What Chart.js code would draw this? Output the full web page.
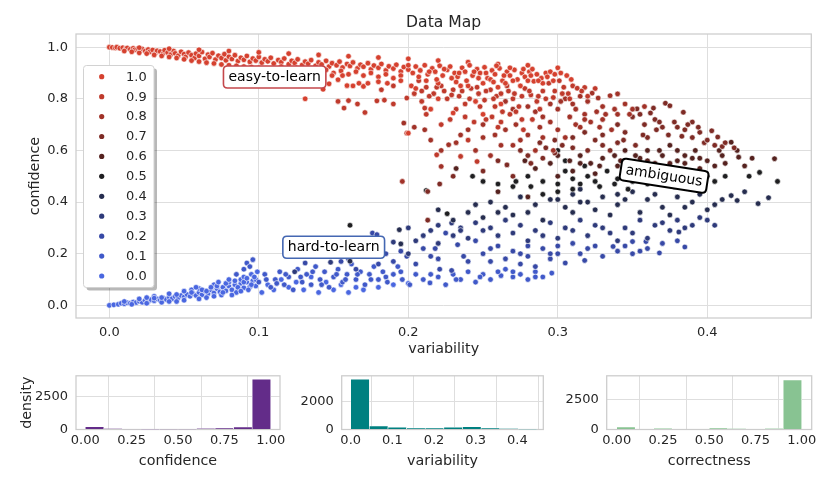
<!DOCTYPE html>
<html><head><meta charset="utf-8">
<script src="https://cdn.jsdelivr.net/npm/chart.js@4.4.0/dist/chart.umd.min.js"></script>
<style>
html,body{margin:0;padding:0;background:#fff;}
#wrap{position:relative;width:830px;height:485px;overflow:hidden;background:#fff;}
canvas{position:absolute;left:0;}
</style></head><body>
<div id="wrap">
<canvas id="main" width="830" height="360" style="top:0px"></canvas>
<canvas id="h1" width="830" height="125" style="top:360px"></canvas>
<canvas id="h2" width="830" height="125" style="top:360px"></canvas>
<canvas id="h3" width="830" height="125" style="top:360px"></canvas>
</div>
<script>
// ---------- DATA ----------
// correctness levels (legend) and their colours
const corrLabels = ['1.0','0.9','0.8','0.7','0.6','0.5','0.4','0.3','0.2','0.1','0.0'];
const corrColors = ['#d5412f','#bf3a2c','#a13228','#7e2b25','#55221f','#1f1f21','#262d4f','#2e3a7a','#3749a6','#4059c9','#4a67e0'];

// each point: [variability, confidence]
const corr10 = [[0,1],[.002,.999],[.004,.997],[.005,1],[.007,.996],[.009,.998],[.011,.994],[.012,.997],[.014,.992],[.016,.996],[.017,.99],[.019,.994],[.021,.988],[.022,.993],[.024,.985],[.026,.991],[.027,.982],[.029,.989],[.031,.978],[.032,.986],[.034,.983],[.036,.975],[.037,.988],[.039,.979],[.041,.971],[.043,.985],[.044,.976],[.046,.967],[.048,.982],[.05,.973],[.051,.962],[.053,.979],[.055,.969],[.057,.958],[.058,.975],[.06,.966],[.062,.981],[.064,.955],[.066,.971],[.067,.962],[.069,.977],[.071,.952],[.073,.967],[.075,.958],[.077,.973],[.078,.949],[.08,.963],[.082,.954],[.084,.969],[.086,.946],[.088,.959],[.09,.951],[.092,.966],[.094,.943],[.096,.956],[.098,.948],[.1,.962],[.102,.94],[.104,.953],[.106,.945],[.108,.959],[.11,.937],[.113,.95],[.115,.942],[.117,.956],[.12,.934],[.122,.947],[.124,.939],[.126,.953],[.129,.931],[.131,.944],[.133,.936],[.135,.95],[.138,.928],[.14,.941],[.142,.933],[.145,.947],[.147,.925],[.149,.938],[.152,.93],[.154,.944],[.156,.921],[.159,.935],[.161,.927],[.163,.941],[.166,.918],[.168,.932],[.17,.924],[.173,.938],[.175,.914],[.177,.929],[.18,.92],[.182,.935],[.185,.91],[.187,.926],[.19,.917],[.192,.932],[.195,.906],[.197,.923],[.2,.913],[.2,.93],
[.01,.985],[.015,.982],[.02,.978],[.025,.975],[.03,.97],[.035,.966],[.04,.962],[.045,.958],[.05,.953],[.055,.948],[.06,.944],[.065,.94],[.07,.937],[.075,.933],[.08,.93],[.085,.928],[.09,.925],[.095,.923],[.1,.92],[.105,.917],[.11,.914],[.115,.925],[.12,.912],[.125,.92],[.13,.91],[.135,.918],[.14,.905],[.145,.912],[.15,.9],[.155,.908],[.16,.895],[.165,.905],[.17,.89],[.175,.9],[.18,.885],[.185,.895],[.19,.88],[.195,.89],
[.02,.998],[.04,.994],[.06,.99],[.08,.985],[.1,.98],[.12,.975],[.14,.97],[.16,.965],[.18,.96],[.2,.955],[.22,.948],[.24,.942],[.26,.935],[.28,.93],[.3,.92],
[.131,.80],[.143,.837],[.147,.858],[.149,.89],[.153,.874],[.156,.89],[.159,.851],[.163,.85],[.167,.86],[.17,.848],[.173,.86],[.18,.866],[.186,.86],[.195,.87],[.202,.85],[.205,.84],
[.205,.925],[.208,.91],[.211,.93],[.213,.895],[.216,.918],[.218,.905],[.221,.928],[.223,.89],[.226,.912],[.228,.925],[.231,.9],[.233,.885],[.236,.92],[.238,.905],[.241,.93],[.243,.89],[.246,.915],[.248,.9],[.251,.922],[.253,.88],[.256,.91],[.258,.895],[.261,.918],[.263,.87],[.266,.905],[.268,.89],[.271,.912],[.273,.875],[.276,.9],[.278,.885],[.281,.905],[.284,.868],[.286,.895],[.289,.88],[.292,.9],[.295,.905],[.298,.895],[.212,.87],[.22,.86],[.232,.865],[.24,.85],[.25,.86],[.26,.845],[.275,.85],[.215,.76],[.22,.8],[.23,.745],[.245,.79],[.25,.74],[.262,.78],[.2,.667],[.235,.85],[.255,.875],[.265,.86],[.28,.87],[.29,.86],[.268,.92],[.283,.915],[.259,.928],[.244,.905],
[.203,.9],[.207,.885],[.214,.905],[.219,.875],[.224,.915],[.229,.88],[.234,.9],[.239,.87],[.247,.88],[.252,.9],[.257,.865],[.264,.89],[.27,.87],[.277,.915],[.282,.89],[.287,.87],[.293,.885],[.297,.87],[.302,.9],[.306,.89],[.309,.875]];
const corr09 = [[.153,.79],[.157,.764],[.16,.793],[.166,.78],[.171,.747],[.179,.792],[.184,.795],[.19,.78],[.182,.835],[.19,.85],[.199,.803],[.209,.79],[.211,.764],[.199,.667],[.219,.583],[.235,.577],[.246,.557],
[.207,.87],[.212,.845],[.217,.82],[.222,.85],[.226,.8],[.23,.835],[.234,.81],[.238,.78],[.242,.84],[.247,.82],[.251,.795],[.255,.835],[.259,.81],[.263,.75],[.267,.83],[.27,.8],[.274,.77],[.278,.84],[.282,.815],[.286,.79],[.29,.83],[.294,.86],[.297,.805],[.301,.87],[.304,.845],[.307,.82],[.31,.85],[.313,.841],[.318,.844],[.228,.72],[.244,.71],[.256,.73],[.268,.74],[.283,.72],[.24,.64],[.26,.69],[.277,.68],
[.204,.82],[.209,.83],[.214,.81],[.219,.845],[.224,.83],[.229,.815],[.236,.83],[.241,.8],[.246,.845],[.252,.83],[.257,.8],[.262,.82],[.266,.85],[.271,.82],[.276,.81],[.281,.83],[.287,.81],[.292,.8],[.298,.83],[.303,.82],[.308,.8],[.316,.83],[.32,.81],[.325,.84],[.232,.76],[.248,.77],[.258,.77],[.272,.75],[.288,.76],[.212,.74],[.222,.7],[.238,.73],[.252,.72],[.262,.71],[.276,.72]];
const corr08 = [[.197,.706],[.204,.69],[.196,.48],[.222,.538],[.227,.622],
[.265,.79],[.27,.76],[.28,.77],[.285,.75],[.29,.73],[.295,.78],[.3,.76],[.305,.8],[.31,.78],[.315,.81],[.32,.79],[.323,.822],[.327,.803],[.33,.77],[.335,.812],[.34,.819],[.345,.78],[.25,.7],[.258,.66],[.265,.68],[.272,.7],[.28,.66],[.288,.69],[.295,.71],[.3,.68],[.308,.73],[.312,.7],[.318,.74],[.322,.71],[.33,.72],[.336,.68],[.245,.6],[.27,.62],[.285,.6],[.255,.58],[.211,.68],[.215,.64],[.235,.66],[.302,.79],[.312,.76],[.326,.75],[.338,.76],[.348,.74],
[.25,.65],[.262,.62],[.275,.64],[.29,.65],[.297,.6],[.305,.65],[.315,.69],[.328,.69],[.34,.74],[.35,.76],[.358,.77],[.332,.74],[.318,.72],[.222,.6],[.232,.63],[.24,.68]];
const corr07 = [[.213,.441],[.266,.544],[.213,.33],
[.353,.761],[.364,.764],[.372,.783],[.375,.773],[.384,.748],[.35,.73],[.358,.7],[.365,.72],[.37,.69],[.378,.71],[.385,.68],[.34,.7],[.345,.67],[.33,.66],[.325,.64],[.318,.67],[.31,.65],[.303,.62],[.298,.64],[.292,.61],[.288,.63],[.28,.58],[.275,.6],[.39,.65],[.395,.67],[.403,.676],[.407,.652],[.41,.615],[.398,.63],[.36,.65],[.352,.62],[.34,.63],[.32,.6],[.26,.56],[.25,.52],[.27,.5],[.23,.5],[.221,.47],[.355,.74],[.362,.745],[.368,.71],[.38,.69],[.39,.71],[.383,.655],[.405,.62],
[.33,.62],[.344,.64],[.357,.66],[.366,.68],[.374,.66],[.387,.7],[.394,.69],[.4,.64],[.412,.63],[.418,.61],[.335,.6],[.31,.61],[.298,.59],[.282,.55],[.29,.57]];
const corr06 = [[.445,.568],[.421,.574],[.416,.632],[.38,.6],[.375,.62],[.37,.58],[.385,.58],[.392,.6],[.36,.6],[.355,.57],[.345,.6],[.338,.58],[.33,.57],[.322,.55],[.315,.58],[.308,.56],[.3,.58],[.295,.55],[.285,.53],[.278,.56],[.3,.5],[.31,.52],[.325,.51],[.35,.53],[.365,.55],[.4,.56],[.405,.54],[.412,.55],[.395,.53],[.232,.53],[.26,.44],[.28,.42],[.39,.57],[.375,.55],[.36,.56],[.41,.58],[.42,.6],
[.315,.55],[.328,.54],[.342,.56],[.352,.58],[.368,.6],[.38,.56],[.395,.57],[.408,.6],[.43,.57],[.425,.54],[.34,.54],[.37,.53],[.385,.55]];
const corr05 = [[.447,.48],[.435,.515],[.428,.5],[.161,.31],[.226,.355],[.212,.445],
[.3,.6],[.305,.56],[.31,.49],[.315,.47],[.32,.5],[.328,.46],[.333,.52],[.34,.49],[.347,.45],[.355,.5],[.36,.47],[.37,.5],[.378,.46],[.388,.52],[.395,.48],[.4,.5],[.29,.48],[.28,.5],[.27,.46],[.26,.47],[.29,.43],[.3,.44],[.243,.5],[.25,.48],
[.305,.52],[.318,.54],[.325,.48],[.338,.47],[.35,.48],[.365,.52],[.373,.48],[.383,.49],[.393,.46],[.405,.48],[.412,.5],[.3,.47],[.31,.45],[.282,.46],[.272,.48]];
const corr04 = [[.441,.417],[.434,.394],[.42,.406],[.416,.425],[.245,.39],[.194,.293],[.195,.238],[.161,.171],
[.3,.41],[.31,.43],[.32,.4],[.33,.42],[.34,.39],[.35,.44],[.36,.41],[.37,.38],[.38,.42],[.39,.4],[.4,.37],[.405,.39],[.395,.43],[.285,.39],[.275,.42],[.265,.38],[.255,.4],[.24,.36],[.23,.33],[.22,.37],[.25,.34],[.27,.35],[.29,.33],[.31,.36],[.335,.35],[.355,.36],[.375,.35],
[.305,.38],[.315,.4],[.325,.37],[.345,.41],[.365,.43],[.385,.38],[.41,.41],[.425,.44],[.28,.36],[.26,.36],[.295,.41],[.315,.45],[.34,.43]];
const corr03 = [[.124,.13],[.148,.167],[.19,.245],[.229,.319],[.235,.3],
[.2,.3],[.21,.27],[.22,.31],[.235,.29],[.245,.32],[.255,.3],[.265,.33],[.275,.31],[.285,.29],[.295,.32],[.305,.3],[.315,.33],[.325,.31],[.335,.28],[.345,.3],[.355,.33],[.365,.31],[.375,.29],[.381,.284],[.36,.26],[.34,.25],[.32,.27],[.3,.26],[.28,.25],[.26,.27],[.24,.26],[.22,.24],[.38,.33],[.39,.31],[.395,.34],[.2,.2],[.18,.22],
[.25,.29],[.27,.28],[.29,.27],[.31,.29],[.33,.3],[.35,.28],[.37,.32],[.385,.3],[.4,.33],[.405,.31],[.23,.27],[.215,.29],[.205,.25]];
const corr02 = [[.176,.28],[.179,.274],[.131,.164],[.19,.17],[.199,.19],[.21,.22],[.218,.22],[.225,.28],[.233,.235],[.237,.19],[.221,.14],[.229,.135],
[.337,.228],[.35,.247],[.359,.247],[.368,.203],[.385,.226],[.305,.164],[.318,.174],
[.25,.2],[.26,.23],[.27,.21],[.28,.19],[.29,.22],[.3,.2],[.31,.24],[.32,.22],[.33,.19],[.34,.21],[.35,.2],[.36,.22],[.245,.25],[.255,.17],[.265,.18],[.275,.16],[.285,.15],[.295,.18],[.15,.2],[.16,.18],[.17,.21],[.18,.16],[.14,.19],[.165,.14],[.185,.2],[.205,.16],[.215,.19],[.24,.17],
[.255,.22],[.275,.2],[.295,.2],[.315,.2],[.325,.23],[.345,.23],[.355,.21],[.37,.24],[.38,.25],[.28,.23],[.3,.23],[.22,.18],[.195,.21],[.175,.19],[.155,.17]];
const corr01 = [[.201,.08],[.2145,.087],[.262,.115],[.27,.11],[.296,.125],
[.092,.164],[.096,.177],[.1,.09],[.104,.12],[.108,.07],[.111,.1],[.114,.13],[.117,.08],[.12,.11],[.123,.06],[.126,.14],[.129,.09],[.132,.12],[.135,.08],[.138,.15],[.141,.1],[.144,.13],[.147,.07],[.15,.11],[.153,.14],[.156,.09],[.159,.12],[.162,.16],[.165,.1],[.168,.13],[.171,.08],[.174,.12],[.177,.15],[.18,.1],[.183,.13],[.186,.09],[.19,.12],[.193,.15],[.196,.1],[.205,.12],[.21,.1],[.22,.11],[.225,.08],[.23,.12],[.235,.1],[.24,.13],[.245,.09],[.25,.12],[.255,.1],[.265,.14],[.275,.12],[.28,.1],[.285,.13],[.29,.11],
[.105,.1],[.112,.085],[.118,.12],[.128,.11],[.136,.13],[.142,.08],[.152,.12],[.158,.1],[.166,.12],[.175,.1],[.185,.11],[.195,.13],[.215,.12],[.232,.1],[.248,.11],[.26,.13],[.27,.13],[.285,.11],[.09,.14],[.085,.12],[.094,.15]];
const corr00 = [[0,0],[.003,.002],[.006,.004],[.008,.008],[.01,.006],[.012,.01],[.014,.008],[.016,.013],[.018,.011],[.02,.016],[.022,.012],[.024,.019],[.026,.015],[.028,.022],[.03,.018],[.032,.025],[.034,.02],[.036,.028],[.038,.023],[.04,.031],[.042,.026],[.044,.034],[.046,.029],[.048,.038],[.05,.032],[.052,.042],[.054,.035],[.056,.046],[.058,.038],[.06,.05],[.062,.041],[.064,.055],[.066,.045],[.068,.06],[.07,.048],[.072,.065],[.074,.052],[.076,.07],[.078,.056],[.08,.075],[.082,.06],[.084,.08],[.086,.064],[.088,.085],[.09,.068],[.092,.09],[.094,.072],[.096,.095],[.098,.075],
[.03,.035],[.04,.045],[.05,.055],[.06,.065],[.065,.03],[.07,.08],[.075,.04],[.08,.09],[.085,.05],[.088,.1],[.09,.11],[.093,.06],[.095,.12],[.098,.1],[.055,.06],[.045,.015],[.035,.012],[.025,.03],
[.102,.05],[.106,.08],[.11,.06],[.115,.1],[.12,.07],[.125,.09],[.13,.06],[.135,.11],[.14,.05],[.145,.09],[.15,.06],[.155,.08],[.16,.05],[.165,.07],[.17,.06],[.18,.07],[.19,.08],[.2,.085],
[.01,.015],[.015,.004],[.02,.025],[.025,.008],[.03,.028],[.035,.03],[.04,.015],[.045,.042],[.05,.02],[.055,.05],[.06,.025],[.062,.06],[.065,.055],[.07,.035],[.072,.075],[.076,.05],[.078,.085],[.082,.04],[.084,.095],[.086,.07],[.088,.055],[.09,.09],[.092,.105],[.095,.08],[.097,.11],[.099,.13],[.058,.07],[.068,.07],[.08,.1],[.073,.09]];
const levelPoints = [corr10, corr09, corr08, corr07, corr06, corr05, corr04, corr03, corr02, corr01, corr00];

// main axes ticks
const varTicks = [0, 0.1, 0.2, 0.3, 0.4];
const varTickLabels = ['0.0','0.1','0.2','0.3','0.4'];
const confTicks = [0, 0.2, 0.4, 0.6, 0.8, 1.0];
const confTickLabels = ['0.0','0.2','0.4','0.6','0.8','1.0'];

// annotations
const annotText = ['easy-to-learn','hard-to-learn','ambiguous'];
const annotVar = [0.1106, 0.1501, 0.3711];
const annotConf = [0.8843, 0.2252, 0.5019];
const annotEdge = ['#c4474b','#4467b2','#000000'];
const annotAngle = [0, 0, 8.8];

// histograms
const confBinCenters = [0.05,0.15,0.25,0.35,0.45,0.55,0.65,0.75,0.85,0.95];
const confCounts = [214,50,35,10,30,25,70,110,190,3800];
const varBinCenters = [0.0224,0.0671,0.1118,0.1565,0.2012,0.2459,0.2906,0.3353,0.38,0.4247];
const varCounts = [3550,245,155,110,110,155,200,110,45,8];
const corrBinCenters = [0.05,0.15,0.25,0.35,0.45,0.55,0.65,0.75,0.85,0.95];
const corrCounts = [210,0,90,0,0,100,50,0,80,4100];
const quarterTicks = [0, 0.25, 0.5, 0.75, 1.0];
const quarterTickLabels = ['0.00','0.25','0.50','0.75','1.00'];
const histConfYTicks = [0, 2500];
const histVarYTicks = [0, 2000];
const histCorrYTicks = [0, 2500];

// ---------- STYLE ----------
const FONT = "'DejaVu Sans', 'Liberation Sans', sans-serif";
Chart.defaults.font.family = FONT;
Chart.defaults.color = '#262626';
const GRID = '#dedede';
const FRAME = '#cccccc';

function rrect(ctx, x, y, w, h, r) {
  ctx.beginPath();
  ctx.moveTo(x + r, y);
  ctx.lineTo(x + w - r, y); ctx.quadraticCurveTo(x + w, y, x + w, y + r);
  ctx.lineTo(x + w, y + h - r); ctx.quadraticCurveTo(x + w, y + h, x + w - r, y + h);
  ctx.lineTo(x + r, y + h); ctx.quadraticCurveTo(x, y + h, x, y + h - r);
  ctx.lineTo(x, y + r); ctx.quadraticCurveTo(x, y, x + r, y);
  ctx.closePath();
}

const framePlugin = {
  id: 'frame',
  beforeDatasetsDraw(chart) {
    const a = chart.chartArea, ctx = chart.ctx;
    ctx.save();
    ctx.strokeStyle = FRAME; ctx.lineWidth = 1.25;
    ctx.strokeRect(a.left, a.top, a.right - a.left, a.bottom - a.top);
    ctx.restore();
  }
};

const decorPlugin = {
  id: 'decor',
  afterDatasetsDraw(chart) {
    const a = chart.chartArea, ctx = chart.ctx;
    const xs = chart.scales.x, ys = chart.scales.y;
    ctx.save();
    // title
    ctx.fillStyle = '#262626';
    ctx.font = '15.6px ' + FONT;
    ctx.textAlign = 'center'; ctx.textBaseline = 'middle';
    ctx.fillText('Data Map', (a.left + a.right) / 2, 22.5);
    // annotations
    ctx.font = '14px ' + FONT;
    for (let i = 0; i < annotText.length; i++) {
      const px = xs.getPixelForValue(annotVar[i]);
      const py = ys.getPixelForValue(annotConf[i]);
      ctx.save();
      ctx.translate(px, py);
      ctx.rotate(annotAngle[i] * Math.PI / 180);
      const w = ctx.measureText(annotText[i]).width + 10, h = 22;
      rrect(ctx, -w / 2, -h / 2, w, h, 4);
      ctx.fillStyle = '#ffffff'; ctx.fill();
      ctx.strokeStyle = annotEdge[i]; ctx.lineWidth = i === 2 ? 2 : 1.6; ctx.stroke();
      ctx.fillStyle = '#000000';
      ctx.textAlign = 'center'; ctx.textBaseline = 'middle';
      ctx.fillText(annotText[i], 0, 0.5);
      ctx.restore();
    }
    // legend
    const lx = a.left + 7.5, ly = a.top + 31.5, lw = 70.5, lh = 222;
    rrect(ctx, lx + 3, ly + 3, lw, lh, 3);
    ctx.fillStyle = 'rgba(0,0,0,0.28)'; ctx.fill();
    rrect(ctx, lx, ly, lw, lh, 3);
    ctx.fillStyle = '#ffffff'; ctx.fill();
    ctx.strokeStyle = '#d2d2d2'; ctx.lineWidth = 1; ctx.stroke();
    ctx.font = '13px ' + FONT;
    ctx.textAlign = 'left'; ctx.textBaseline = 'middle';
    chart.data.datasets.forEach((ds, i) => {
      const cy = ly + 11.2 + i * 19.93;
      ctx.beginPath(); ctx.arc(lx + 18.2, cy, 2.6, 0, Math.PI * 2);
      ctx.fillStyle = ds.backgroundColor; ctx.fill();
      ctx.fillStyle = '#262626';
      ctx.fillText(ds.label, lx + 42.5, cy + 0.5);
    });
    ctx.restore();
  }
};

// ---------- MAIN SCATTER ----------
new Chart(document.getElementById('main'), {
  type: 'scatter',
  data: {
    datasets: corrLabels.map((lab, i) => ({
      label: lab,
      data: levelPoints[i].map(p => ({x: p[0], y: p[1]})),
      backgroundColor: corrColors[i],
      borderColor: '#ffffff',
      borderWidth: 0.6,
      pointRadius: 2.8,
      pointHoverRadius: 2.8
    }))
  },
  options: {
    responsive: false, animation: false, events: [],
    layout: {padding: {top: 34, right: 18.7, bottom: 0, left: 0}},
    plugins: {legend: {display: false}, tooltip: {enabled: false}, title: {display: false}},
    scales: {
      x: {
        type: 'linear', min: -0.0223, max: 0.4696,
        grid: {color: GRID, drawTicks: false}, border: {display: false},
        afterBuildTicks: s => { s.ticks = varTicks.map(v => ({value: v})); },
        ticks: {padding: 7, font: {size: 13}, callback: (v, i) => varTickLabels[i], maxRotation: 0, autoSkip: false},
        title: {display: true, text: 'variability', font: {size: 14.3}, padding: {top: 0, bottom: 2.4}},
        afterFit: s => { s.height = 42; }
      },
      y: {
        type: 'linear', min: -0.049, max: 1.051,
        grid: {color: GRID, drawTicks: false}, border: {display: false},
        afterBuildTicks: s => { s.ticks = confTicks.map(v => ({value: v})); },
        ticks: {padding: 8, font: {size: 13}, callback: (v, i) => confTickLabels[i], autoSkip: false},
        title: {display: true, text: 'confidence', font: {size: 14.3}, padding: {top: 26.9, bottom: 0}},
        afterFit: s => { s.width = 76; }
      }
    }
  },
  plugins: [framePlugin, decorPlugin]
});

// ---------- HISTOGRAMS ----------
function hist(id, centers, counts, color, xMin, xMax, xTicks, xLabels, yMax, yTicks, xTitle, yTitle, plotLeft, plotRight) {
  new Chart(document.getElementById(id), {
    type: 'bar',
    data: {datasets: [{
      data: centers.map((c, i) => ({x: c, y: counts[i]})),
      backgroundColor: color, borderColor: '#ffffff', borderWidth: 0.6,
      barPercentage: 1, categoryPercentage: 1
    }]},
    options: {
      responsive: false, animation: false, events: [],
      layout: {padding: {top: 12.3, left: plotLeft - 76, right: 830 - plotRight, bottom: 0}},
      plugins: {legend: {display: false}, tooltip: {enabled: false}},
      scales: {
        x: {
          type: 'linear', min: xMin, max: xMax, offset: false,
          grid: {color: GRID, drawTicks: false}, border: {display: false},
          afterBuildTicks: s => { s.ticks = xTicks.map(v => ({value: v})); },
          ticks: {padding: 3.5, font: {size: 13}, callback: (v, i) => xLabels[i], maxRotation: 0, autoSkip: false},
          title: {display: true, text: xTitle, font: {size: 14.3}, padding: {top: 0, bottom: 15}},
          afterFit: s => { s.height = 55.5; }
        },
        y: {
          type: 'linear', min: 0, max: yMax,
          grid: {color: GRID, drawTicks: false}, border: {display: false},
          afterBuildTicks: s => { s.ticks = yTicks.map(v => ({value: v})); },
          ticks: {padding: 8, font: {size: 13}, callback: v => String(v), autoSkip: false},
          title: {display: !!yTitle, text: yTitle || '', font: {size: 14.3}, padding: {top: 18.4, bottom: 0}},
          afterFit: s => { s.width = 76; }
        }
      }
    },
    plugins: [framePlugin]
  });
}
hist('h1', confBinCenters, confCounts, '#632c89', -0.05, 1.05, quarterTicks, quarterTickLabels, 4062, histConfYTicks, 'confidence', 'density', 76, 280);
hist('h2', varBinCenters, varCounts, '#008080', -0.0216, 0.4622, varTicks, varTickLabels, 3788, histVarYTicks, 'variability', '', 341.7, 543.3);
hist('h3', corrBinCenters, corrCounts, '#88c392', -0.054, 1.054, quarterTicks, quarterTickLabels, 4441, histCorrYTicks, 'correctness', '', 606.7, 811.7);
</script>
</body></html>
